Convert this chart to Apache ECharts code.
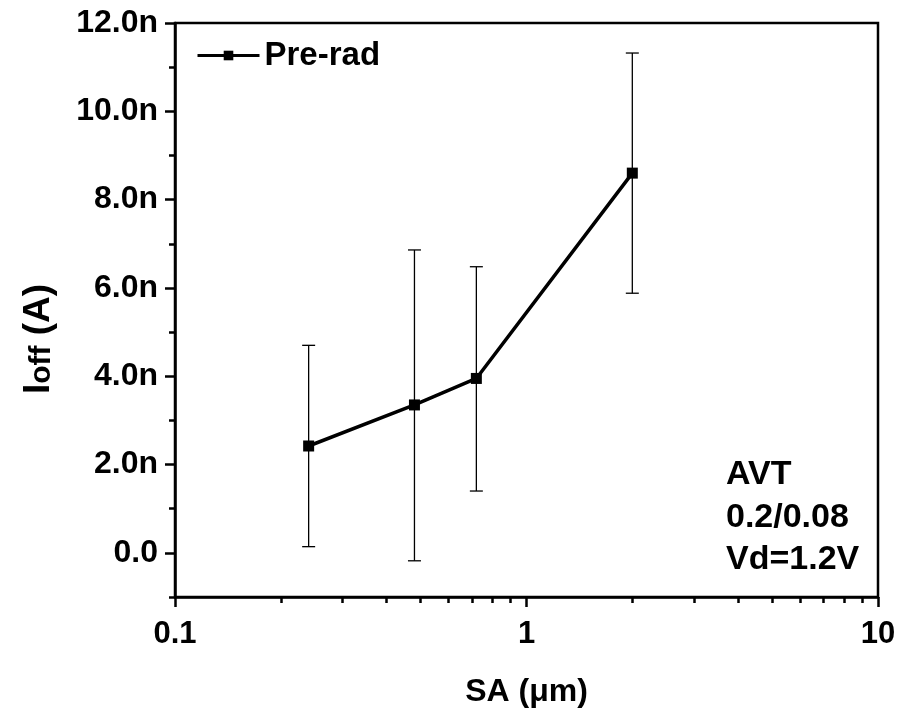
<!DOCTYPE html>
<html><head><meta charset="utf-8">
<script src="https://cdn.jsdelivr.net/npm/echarts@6/dist/echarts.min.js"></script>
<style>html,body{margin:0;padding:0;background:#fff}#c{width:901px;height:710px}</style>
</head><body><div id="c"></div>
<script>
const sa = [0.24, 0.48, 0.72, 2.0];
const ioff = [2.42, 3.35, 3.95, 8.6];
const errLow = [0.14, -0.18, 1.40, 5.88];
const errHigh = [4.70, 6.86, 6.48, 11.32];
const yMajor = [0, 2, 4, 6, 8, 10, 12];
const yMinor = [-1, 1, 3, 5, 7, 9, 11];
const xMajor = [0.1, 1, 10];
const xMinor = [0.2,0.3,0.4,0.5,0.6,0.7,0.8,0.9,2,3,4,5,6,7,8,9];
const notes = ['AVT', '0.2/0.08', 'Vd=1.2V'];

const F = 'Liberation Sans, Arial, sans-serif';
const chart = echarts.init(document.getElementById('c'), null, {renderer: 'canvas'});
const lineData = sa.map((x, i) => [x, ioff[i]]);
const errData = sa.map((x, i) => [x, errLow[i], errHigh[i]]);

chart.setOption({
  animation: false,
  grid: {left: 175, right: 23, top: 23, bottom: 113, show: true, borderColor: '#000', borderWidth: 2.5,
    backgroundColor: 'transparent', containLabel: false, outerBoundsMode: 'none'},
  legend: {
    data: ['Pre-rad'], left: 191, top: 34, itemWidth: 62, itemHeight: 12, itemGap: 6,
    lineStyle: {width: 3}, itemStyle: {color: '#000'},
    textStyle: {fontFamily: F, fontWeight: 'bold', fontSize: 33, color: '#000'}
  },
  xAxis: [{
    type: 'log', logBase: 10, min: 0.1, max: 10, position: 'bottom',
    axisLine: {show: true, onZero: false, lineStyle: {color: '#000', width: 2.5}},
    axisTick: {show: true, inside: false, length: 10, lineStyle: {color: '#000', width: 2.5}, customValues: xMajor},
    axisLabel: {show: true, customValues: xMajor, margin: 22, fontFamily: F, fontWeight: 'bold', fontSize: 31, color: '#000',
      formatter: v => String(v)},
    splitLine: {show: false},
    name: 'SA (μm)', nameLocation: 'middle', nameGap: 79,
    nameTextStyle: {fontFamily: F, fontWeight: 'bold', fontSize: 32, color: '#000'}
  }, {
    type: 'log', logBase: 10, min: 0.1, max: 10, position: 'bottom',
    axisLine: {show: false, onZero: false},
    axisTick: {show: true, length: 6, lineStyle: {color: '#000', width: 2.5}, customValues: xMinor},
    axisLabel: {show: false}, splitLine: {show: false}
  }],
  yAxis: [{
    type: 'value', min: -1, max: 12, position: 'left',
    axisLine: {show: true, onZero: false, lineStyle: {color: '#000', width: 2.5}},
    axisTick: {show: true, length: 10, lineStyle: {color: '#000', width: 2.5}, customValues: yMajor},
    axisLabel: {show: true, customValues: yMajor, margin: 17, fontFamily: F, fontWeight: 'bold', fontSize: 32, color: '#000',
      formatter: v => v === 0 ? '0.0' : v.toFixed(1) + 'n'},
    splitLine: {show: false},
    name: '{a|I}{b|off}{a| (A)}', nameLocation: 'middle', nameGap: 118, nameRotate: 90,
    nameTextStyle: {
      padding: [0, 58, 0, 0],
      rich: {
        a: {fontFamily: F, fontWeight: 'bold', fontSize: 37, color: '#000', lineHeight: 38, verticalAlign: 'bottom'},
        b: {fontFamily: F, fontWeight: 'bold', fontSize: 30, color: '#000', lineHeight: 38, padding: [8, 0, 0, 0], verticalAlign: 'bottom'}
      }
    }
  }, {
    type: 'value', min: -1, max: 12, position: 'left',
    axisLine: {show: false, onZero: false},
    axisTick: {show: true, length: 6, lineStyle: {color: '#000', width: 2.5}, customValues: yMinor},
    axisLabel: {show: false}, splitLine: {show: false}
  }],
  graphic: notes.map((t, i) => ({
    type: 'text', left: 726, top: 458 + i * 42.5,
    style: {text: t, fontFamily: F, fontWeight: 'bold', fontSize: 34, fill: '#000'}
  })),
  series: [{
    type: 'custom', name: 'err', xAxisIndex: 0, yAxisIndex: 0, silent: true, z: 1,
    data: errData,
    renderItem: (params, api) => {
      const lo = api.coord([api.value(0), api.value(1)]);
      const hi = api.coord([api.value(0), api.value(2)]);
      const w = 6.5;
      const st = {stroke: '#000', lineWidth: 1.3};
      return {type: 'group', children: [
        {type: 'line', shape: {x1: hi[0], y1: hi[1], x2: lo[0], y2: lo[1]}, style: st},
        {type: 'line', shape: {x1: hi[0] - w, y1: hi[1], x2: hi[0] + w, y2: hi[1]}, style: st},
        {type: 'line', shape: {x1: lo[0] - w, y1: lo[1], x2: lo[0] + w, y2: lo[1]}, style: st}
      ]};
    }
  }, {
    type: 'line', name: 'Pre-rad', xAxisIndex: 0, yAxisIndex: 0, z: 3,
    data: lineData, symbol: 'rect', symbolSize: 11,
    lineStyle: {color: '#000', width: 3.5}, itemStyle: {color: '#000'}
  }]
});
</script></body></html>
